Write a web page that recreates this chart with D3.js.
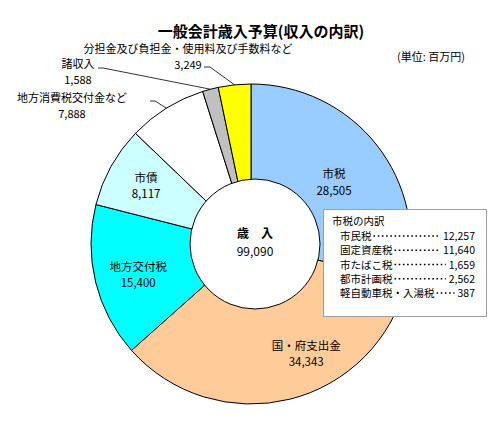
<!DOCTYPE html>
<html>
<head>
<meta charset="utf-8">
<script src="https://cdn.jsdelivr.net/npm/d3@7"></script>
<style>
  body { margin: 0; background: #fff; }
  text { font-family: "Noto Sans CJK JP", sans-serif; fill: #000; }
</style>
</head>
<body>
<div id="chart"></div>
<script>
// Revenue breakdown (million yen), clockwise from 12 o'clock
const categories = ["市税", "国・府支出金", "地方交付税", "市債", "地方消費税交付金など", "諸収入", "分担金及び負担金・使用料及び手数料など"];
const values = [28505, 34343, 15400, 8117, 7888, 1588, 3249];
const colors = ["#99ccff", "#ffcc99", "#00ffff", "#ccffff", "#ffffff", "#c0c0c0", "#ffff00"];
const total = 99090;

// City tax breakdown box
const taxNames = ["市民税", "固定資産税", "市たばこ税", "都市計画税", "軽自動車税・入湯税"];
const taxValues = [12257, 11640, 1659, 2562, 387];

const fmt = d3.format(",");
const width = 504, height = 423;
const cx = 251, cy = 244, outerR = 160;

const svg = d3.select("#chart")
  .append("svg")
  .attr("width", width)
  .attr("height", height);

svg.append("text")
  .attr("x", 261).attr("y", 37)
  .attr("text-anchor", "middle")
  .attr("font-size", 15).attr("font-weight", "bold")
  .text("一般会計歳入予算(収入の内訳)");

svg.append("text")
  .attr("x", 431).attr("y", 61)
  .attr("text-anchor", "middle")
  .attr("font-size", 11)
  .text("(単位: 百万円)");

const pie = d3.pie().sort(null).value(d => d);
const arcs = pie(values);
const arc = d3.arc().innerRadius(0).outerRadius(outerR);

const g = svg.append("g")
  .attr("transform", "translate(" + cx + "," + cy + ")");

g.selectAll(".slice")
  .data(arcs)
  .enter().append("path")
  .attr("class", "slice")
  .attr("d", arc)
  .attr("fill", (d, i) => colors[i])
  .attr("stroke", "#000")
  .attr("stroke-width", 1);

// centre hole
svg.append("circle")
  .attr("cx", 255).attr("cy", 244)
  .attr("r", 65)
  .attr("fill", "#fff")
  .attr("stroke", "#000")
  .attr("stroke-width", 1);

svg.append("text")
  .attr("x", 255).attr("y", 238)
  .attr("text-anchor", "middle")
  .attr("font-size", 12).attr("font-weight", "bold")
  .text("歳　入");
svg.append("text")
  .attr("x", 255).attr("y", 256)
  .attr("text-anchor", "middle")
  .attr("font-size", 12)
  .text(fmt(total));

// inside labels: slice centroid at a mid radius, nudged to where the original sits
const labelArc = d3.arc().innerRadius(112).outerRadius(112);
const insideShift = [[-5, 3], [28, -3], [-4, 0], [-7, -8]];
[0, 1, 2, 3].forEach(i => {
  const c = labelArc.centroid(arcs[i]);
  const x = cx + c[0] + insideShift[i][0];
  const y = cy + c[1] + insideShift[i][1];
  svg.append("text")
    .attr("x", x).attr("y", y)
    .attr("text-anchor", "middle")
    .attr("font-size", 11.5)
    .text(categories[i]);
  svg.append("text")
    .attr("x", x).attr("y", y + 16.8)
    .attr("text-anchor", "middle")
    .attr("font-size", 11.5)
    .text(fmt(values[i]));
});

// outside labels with leader lines
const outside = [
  { i: 4, name: [72, 102], val: [72, 118], line: [[150, 101], [155, 101]] },
  { i: 5, name: [78, 68], val: [78, 84], line: [[98, 68], [103, 68]] },
  { i: 6, name: [188, 53], val: [188, 69], line: [[204, 67], [210, 67]] }
];
outside.forEach(o => {
  const a = arcs[o.i];
  const mid = (a.startAngle + a.endAngle) / 2;
  const ex = cx + outerR * Math.sin(mid);
  const ey = cy - outerR * Math.cos(mid);
  svg.append("text")
    .attr("x", o.name[0]).attr("y", o.name[1])
    .attr("text-anchor", "middle")
    .attr("font-size", 11)
    .text(categories[o.i]);
  svg.append("text")
    .attr("x", o.val[0]).attr("y", o.val[1])
    .attr("text-anchor", "middle")
    .attr("font-size", 11)
    .text(fmt(values[o.i]));
  svg.append("path")
    .attr("d", d3.line()([o.line[0], o.line[1], [ex, ey]]))
    .attr("fill", "none")
    .attr("stroke", "#000")
    .attr("stroke-width", 0.8);
});

// city tax breakdown box
const box = svg.append("g");
box.append("rect")
  .attr("x", 323.5).attr("y", 209.5)
  .attr("width", 163).attr("height", 107)
  .attr("fill", "#fff")
  .attr("stroke", "#a0a0a0")
  .attr("stroke-width", 1);

box.append("text")
  .attr("x", 332).attr("y", 225)
  .attr("font-size", 10.5)
  .text("市税の内訳");

const rowY = d3.scaleLinear().domain([0, 4]).range([240, 297]);
taxNames.forEach((n, i) => {
  const y = rowY(i);
  const t = box.append("text")
    .attr("x", 340).attr("y", y)
    .attr("font-size", 10.5)
    .text(n);
  const v = box.append("text")
    .attr("x", 475).attr("y", y)
    .attr("text-anchor", "end")
    .attr("font-size", 10.5)
    .text(fmt(taxValues[i]));
  const x0 = 340 + t.node().getComputedTextLength() + 2;
  const x1 = 475 - v.node().getComputedTextLength() - 3;
  box.append("line")
    .attr("x1", x0).attr("x2", x1)
    .attr("y1", y - 4).attr("y2", y - 4)
    .attr("stroke", "#000")
    .attr("stroke-width", 1.6)
    .attr("stroke-dasharray", "1.6,2.6");
});
</script>
</body>
</html>
